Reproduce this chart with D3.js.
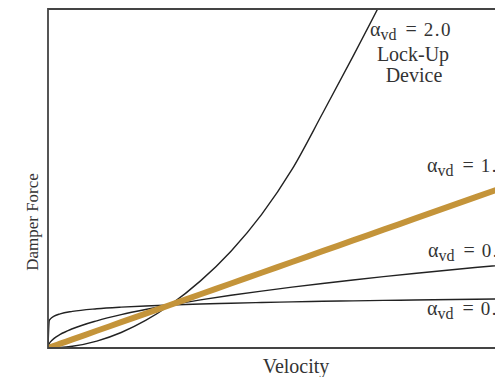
<!DOCTYPE html>
<html>
<head>
<meta charset="utf-8">
<script src="https://cdn.jsdelivr.net/npm/d3@7/dist/d3.min.js"></script>
<style>
  html, body { margin: 0; padding: 0; background: #fff; }
  svg { display: block; }
  text { font-family: "Liberation Serif", "Times New Roman", serif; fill: #333; }
</style>
</head>
<body>
<svg id="chart" width="495" height="377"></svg>
<script>
// Normalised velocity samples (v = 1 where all damper curves meet)
const velocity = [0, 0.01, 0.02, 0.05, 0.1, 0.2, 0.4, 0.6, 0.8, 1.0, 1.25, 1.5, 1.75, 2.0, 2.25, 2.5, 2.75, 3.0, 3.5, 4.0];

// Damper force for each velocity exponent
const forceLockUp = [0, 0.0001, 0.0004, 0.0025, 0.01, 0.04, 0.16, 0.36, 0.64, 1.0, 1.56, 2.25, 3.1, 4.15, 5.45, 6.78, 8.15, 9.6, 13.0, 16.8];
const forceLinear = [0, 0.01, 0.02, 0.05, 0.1, 0.2, 0.4, 0.6, 0.8, 1.0, 1.25, 1.5, 1.75, 2.0, 2.25, 2.5, 2.75, 3.0, 3.5, 4.0];
const forceHalf   = [0, 0.1, 0.141, 0.224, 0.316, 0.447, 0.632, 0.775, 0.894, 1.0, 1.118, 1.225, 1.323, 1.414, 1.5, 1.581, 1.658, 1.732, 1.871, 2.0];
const forceLow    = [0, 0.631, 0.676, 0.741, 0.794, 0.851, 0.912, 0.950, 0.978, 1.0, 1.023, 1.041, 1.058, 1.072, 1.085, 1.096, 1.106, 1.116, 1.133, 1.149];

const seriesLabels = ["2.0", "1.0", "0.5", "0.1"];

const svg = d3.select("#chart");
const plotLeft = 48, plotTop = 9, plotBottom = 348, plotRight = 536;

const x = d3.scaleLinear().domain([0, 4]).range([plotLeft, plotRight]);
const y = d3.scaleLinear().domain([0, 7.88]).range([plotBottom, plotTop]);

svg.append("defs").append("clipPath").attr("id", "plot")
  .append("rect").attr("x", plotLeft).attr("y", plotTop)
  .attr("width", plotRight - plotLeft).attr("height", plotBottom - plotTop);

const line = d3.line()
  .x((d, i) => x(velocity[i]))
  .y(d => y(d))
  .curve(d3.curveMonotoneX);

const curves = svg.append("g").attr("clip-path", "url(#plot)");
[forceLockUp, forceHalf, forceLow, forceLinear].forEach(f => {
  curves.append("path")
    .attr("d", line(f))
    .attr("fill", "none")
    .attr("stroke", "#222")
    .attr("stroke-width", 1.4);
});

// Highlighted linear damper (exponent 1.0)
curves.append("path")
  .attr("d", line(forceLinear))
  .attr("fill", "none")
  .attr("stroke", "#c4943a")
  .attr("stroke-width", 6);

// Plot frame: left, top and bottom edges
svg.append("path")
  .attr("d", d3.line()([[plotRight, plotTop], [plotLeft, plotTop], [plotLeft, plotBottom], [plotRight, plotBottom]]))
  .attr("fill", "none").attr("stroke", "#444").attr("stroke-width", 1.8);

// Exponent labels: alpha with "vd" subscript, then "= value"
function alphaLabel(px, py, value) {
  const t = svg.append("text")
    .attr("x", px).attr("y", py)
    .attr("font-size", 20);
  t.append("tspan").text("\u03b1");
  t.append("tspan").attr("font-size", 16).attr("dy", 4).text("vd");
  t.append("tspan").attr("dy", -4).attr("dx", 9).text("=");
  t.append("tspan").attr("dx", 7).attr("font-size", 19)
    .attr("letter-spacing", 1.5).text(value);
  return t;
}

alphaLabel(370, 36, seriesLabels[0]);
svg.append("text").attr("x", 413).attr("y", 61).attr("font-size", 20)
  .attr("text-anchor", "middle").text("Lock-Up");
svg.append("text").attr("x", 414).attr("y", 82).attr("font-size", 20)
  .attr("text-anchor", "middle").text("Device");

alphaLabel(427, 172, seriesLabels[1]);
alphaLabel(428, 257, seriesLabels[2]);
alphaLabel(427, 315, seriesLabels[3]);

// Axis titles
svg.append("text").attr("x", 296).attr("y", 373).attr("font-size", 20)
  .attr("text-anchor", "middle").text("Velocity");
svg.append("text")
  .attr("transform", "translate(38,222) rotate(-90)")
  .attr("font-size", 17)
  .attr("text-anchor", "middle").text("Damper Force");
</script>
</body>
</html>
